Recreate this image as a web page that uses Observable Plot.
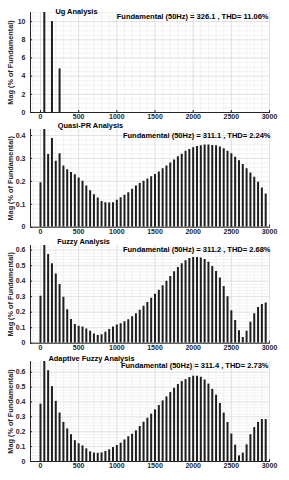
<!DOCTYPE html>
<html>
<head>
<meta charset="utf-8">
<script src="https://cdn.jsdelivr.net/npm/d3@7"></script>
<script src="https://cdn.jsdelivr.net/npm/@observablehq/plot@0.6"></script>
<style>
  html, body { margin: 0; padding: 0; background: #fff; }
  #chart svg { display: block; }
</style>
</head>
<body>
<div id="chart"></div>
<script>
// Harmonic frequencies (Hz)
const harmonicHz = [0, 50, 100, 150, 200, 250, 300, 350, 400, 450,
  500, 550, 600, 650, 700, 750, 800, 850, 900, 950,
  1000, 1050, 1100, 1150, 1200, 1250, 1300, 1350, 1400, 1450,
  1500, 1550, 1600, 1650, 1700, 1750, 1800, 1850, 1900, 1950,
  2000, 2050, 2100, 2150, 2200, 2250, 2300, 2350, 2400, 2450,
  2500, 2550, 2600, 2650, 2700, 2750, 2800, 2850, 2900, 2950];

// Ug analysis (only non-zero harmonics), % of fundamental
const ugHz = [50, 150, 250];
const ugMag = [100, 10.0, 4.8];

// Quasi-PR analysis, % of fundamental
const quasiPRMag = [0.194, 100, 0.317, 0.387, 0.288, 0.320, 0.267, 0.251, 0.238, 0.229,
  0.215, 0.200, 0.180, 0.159, 0.142, 0.127, 0.112, 0.107, 0.105, 0.107,
  0.117, 0.128, 0.139, 0.150, 0.166, 0.180, 0.191, 0.200, 0.210, 0.220,
  0.230, 0.241, 0.255, 0.267, 0.280, 0.293, 0.307, 0.318, 0.331, 0.339,
  0.346, 0.352, 0.355, 0.358, 0.358, 0.356, 0.355, 0.350, 0.342, 0.331,
  0.320, 0.305, 0.290, 0.273, 0.255, 0.236, 0.218, 0.196, 0.171, 0.145];

// Fuzzy analysis, % of fundamental
const fuzzyMag = [0.303, 100, 0.572, 0.512, 0.447, 0.378, 0.297, 0.215, 0.153, 0.120,
  0.110, 0.105, 0.092, 0.077, 0.060, 0.050, 0.054, 0.071, 0.088, 0.105,
  0.118, 0.125, 0.138, 0.152, 0.170, 0.190, 0.213, 0.238, 0.263, 0.290,
  0.315, 0.342, 0.370, 0.400, 0.430, 0.460, 0.488, 0.512, 0.532, 0.546,
  0.552, 0.553, 0.550, 0.540, 0.522, 0.495, 0.462, 0.420, 0.365, 0.300,
  0.210, 0.146, 0.080, 0.037, 0.077, 0.135, 0.190, 0.230, 0.250, 0.260];

// Adaptive fuzzy analysis, % of fundamental
const adaptiveMag = [0.385, 100, 0.610, 0.503, 0.404, 0.326, 0.263, 0.219, 0.180, 0.140,
  0.119, 0.105, 0.085, 0.065, 0.057, 0.055, 0.058, 0.067, 0.078, 0.094,
  0.107, 0.123, 0.145, 0.166, 0.183, 0.206, 0.235, 0.264, 0.291, 0.318,
  0.347, 0.376, 0.407, 0.434, 0.463, 0.492, 0.517, 0.537, 0.550, 0.564,
  0.573, 0.573, 0.566, 0.548, 0.520, 0.485, 0.445, 0.390, 0.325, 0.262,
  0.185, 0.110, 0.038, 0.056, 0.112, 0.180, 0.228, 0.263, 0.282, 0.282];

// Tick labels
const xTicks = [0, 500, 1000, 1500, 2000, 2500, 3000];
const ugYTicks = [0, 2, 4, 6, 8, 10];
const quasiYTicks = [0, 0.1, 0.2, 0.3, 0.4];
const fuzzyYTicks = [0, 0.1, 0.2, 0.3, 0.4, 0.5, 0.6];
const adaptiveYTicks = [0, 0.1, 0.2, 0.3, 0.4, 0.5, 0.6];

const titles = ["Ug Analysis", "Quasi-PR Analysis", "Fuzzy Analysis", "Adaptive Fuzzy Analysis"];
const infos = [
  "Fundamental (50Hz) = 326.1 , THD= 11.06%",
  "Fundamental (50Hz) = 311.1 , THD= 2.24%",
  "Fundamental (50Hz) = 311.2 , THD= 2.68%",
  "Fundamental (50Hz) = 311.4 , THD= 2.73%"
];
const yLabel = "Mag (% of Fundamental)";

const FONT = "'Liberation Sans', Arial, Helvetica, sans-serif";
const X_DOMAIN = [-131, 3013];
const xMinor = d3.range(-100, 3001, 100);

function panel(o) {
  const yMinor = d3.range(0, o.yDomain[1] + 1e-9, o.yMinorStep);
  return Plot.plot({
    width: 289,
    height: o.height,
    marginLeft: 30,
    marginRight: 19,
    marginTop: o.marginTop,
    marginBottom: o.marginBottom,
    style: {fontFamily: FONT, fontSize: "7px", fontWeight: "bold", color: "#262626", background: "#fff"},
    x: {domain: X_DOMAIN},
    y: {domain: o.yDomain},
    marks: [
      Plot.gridX(xMinor, {stroke: "#e6e6e6", strokeOpacity: 1, strokeWidth: 0.5}),
      Plot.gridY(yMinor, {stroke: "#e6e6e6", strokeOpacity: 1, strokeWidth: 0.5}),
      Plot.gridX(xTicks, {stroke: "#d6d6d6", strokeOpacity: 1, strokeWidth: 0.6}),
      Plot.gridY(o.yTicks, {stroke: "#d6d6d6", strokeOpacity: 1, strokeWidth: 0.6}),
      Plot.ruleX(o.freq, {x: o.freq, y1: 0, y2: o.values, stroke: "#1e1e1e", strokeWidth: 2, clip: true}),
      Plot.ruleY([0], {stroke: "#262626", strokeWidth: 1}),
      Plot.ruleX([X_DOMAIN[0]], {stroke: "#262626", strokeWidth: 1}),
      Plot.axisX({ticks: xTicks, tickFormat: d => String(d), tickSize: -2, tickPadding: 4, label: null, stroke: "#262626"}),
      Plot.axisY({ticks: o.yTicks, tickFormat: d => String(d), tickSize: -2, tickPadding: 7, label: null, stroke: "#262626"}),
      Plot.text([o.title], {frameAnchor: "top-left", dx: o.titleX - 30, dy: o.titleDy, textAnchor: "middle", lineAnchor: "middle", fontSize: 7.4, fill: "#000"}),
      Plot.text([o.info], {frameAnchor: "top-right", dx: o.infoDx, dy: o.infoDy, textAnchor: "end", lineAnchor: "middle", fontSize: 7.5, fill: "#000"}),
      Plot.text([yLabel], {frameAnchor: "left", dx: -20, rotate: -90, textAnchor: "middle", lineAnchor: "middle", fontSize: 7.3, fill: "#262626"})
    ]
  });
}

const root = document.getElementById("chart");
root.append(panel({freq: ugHz, values: ugMag, yDomain: [0, 11], yTicks: ugYTicks, yMinorStep: 0.5,
  title: titles[0], titleX: 76, titleDy: -0.5, info: infos[0], infoDx: -2, infoDy: 3.7,
  height: 120, marginTop: 12, marginBottom: 8}));
root.append(panel({freq: harmonicHz, values: quasiPRMag, yDomain: [0, 0.426], yTicks: quasiYTicks, yMinorStep: 0.02,
  title: titles[1], titleX: 90, titleDy: -4, info: infos[1], infoDx: 0, infoDy: 6,
  height: 115, marginTop: 9, marginBottom: 8.3}));
root.append(panel({freq: harmonicHz, values: fuzzyMag, yDomain: [0, 0.63], yTicks: fuzzyYTicks, yMinorStep: 0.02,
  title: titles[2], titleX: 83, titleDy: -4.3, info: infos[2], infoDx: 0, infoDy: 4.3,
  height: 117, marginTop: 10, marginBottom: 9.3}));
root.append(panel({freq: harmonicHz, values: adaptiveMag, yDomain: [0, 0.672], yTicks: adaptiveYTicks, yMinorStep: 0.02,
  title: titles[3], titleX: 91, titleDy: -3, info: infos[3], infoDx: -2, infoDy: 4,
  height: 128, marginTop: 9, marginBottom: 19}));
</script>
</body>
</html>
